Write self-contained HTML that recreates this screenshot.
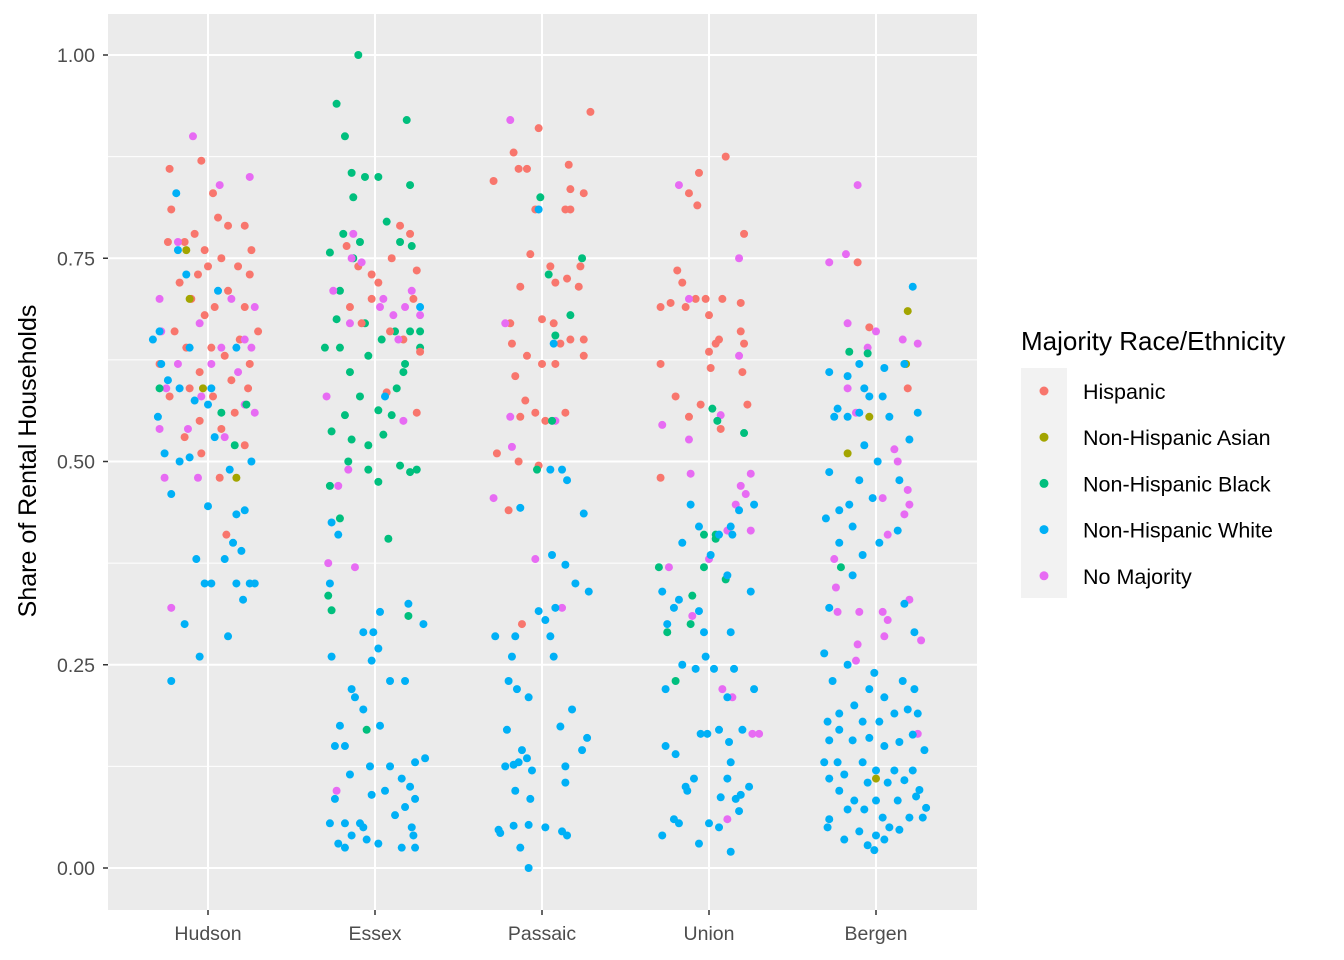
<!DOCTYPE html>
<html><head><meta charset="utf-8"><style>
html,body{margin:0;padding:0;background:#fff;}
svg{display:block;font-family:"Liberation Sans",Arial,sans-serif;}
</style></head><body>
<svg id="chart" width="1344" height="960" viewBox="0 0 1344 960">
<rect x="108" y="14" width="869" height="896" fill="#EBEBEB"/>
<g id="grid"></g>
<g id="points"></g>
<g id="axes"></g>
<text x="36" y="461" transform="rotate(-90 36 461)" text-anchor="middle" font-size="25" fill="#000">Share of Rental Households</text>
<g>
<text x="1021" y="350" font-size="26" fill="#000">Majority Race/Ethnicity</text>
<rect x="1021" y="368" width="46" height="230" fill="#F2F2F2"/>
<g id="legendItems"></g>
</g>
</svg>
<script>
const categories = ["Hudson","Essex","Passaic","Union","Bergen"];
const yTicks = [0, 0.25, 0.5, 0.75, 1.0];
const yTickLabels = ["0.00","0.25","0.50","0.75","1.00"];
const groupKeys = ["H","A","B","W","N"];
const groupNames = ["Hispanic","Non-Hispanic Asian","Non-Hispanic Black","Non-Hispanic White","No Majority"];
const groupColors = {H:"#F8766D",A:"#A3A500",B:"#00BF7D",W:"#00B0F6",N:"#E76BF3"};

// [jitter (category units), value, group]
const hudsonPoints = [
[-.23,.86,'H'],[-.04,.87,'H'],[.03,.83,'H'],[-.22,.81,'H'],[.06,.80,'H'],[.12,.79,'H'],[.22,.79,'H'],[-.08,.78,'H'],[-.14,.77,'H'],[-.24,.77,'H'],[-.02,.76,'H'],[.26,.76,'H'],[.08,.75,'H'],[0,.74,'H'],[.18,.74,'H'],[-.06,.73,'H'],[.25,.73,'H'],[-.17,.72,'H'],[.12,.71,'H'],[-.1,.70,'H'],[.04,.69,'H'],[.22,.69,'H'],[-.02,.68,'H'],[.3,.66,'H'],[-.2,.66,'H'],[.02,.64,'H'],[.19,.65,'H'],[-.13,.64,'H'],[.1,.63,'H'],[.25,.62,'H'],[-.29,.62,'H'],[-.05,.61,'H'],[.14,.60,'H'],[-.11,.59,'H'],[.24,.59,'H'],[.03,.58,'H'],[-.23,.58,'H'],[.16,.56,'H'],[-.05,.55,'H'],[.08,.54,'H'],[-.14,.53,'H'],[.22,.52,'H'],[-.04,.51,'H'],[.11,.41,'H'],[.07,.48,'H'],
[-.09,.90,'N'],[.25,.85,'N'],[.07,.84,'N'],[-.18,.77,'N'],[-.29,.70,'N'],[.14,.70,'N'],[.28,.69,'N'],[-.05,.67,'N'],[.22,.65,'N'],[-.28,.66,'N'],[.08,.64,'N'],[.02,.62,'N'],[.26,.64,'N'],[-.18,.62,'N'],[-.25,.59,'N'],[.18,.61,'N'],[-.04,.58,'N'],[-.12,.54,'N'],[-.29,.54,'N'],[.1,.53,'N'],[-.06,.48,'N'],[-.26,.48,'N'],[.28,.56,'N'],[.22,.57,'N'],[-.22,.32,'N'],
[-.19,.83,'W'],[-.18,.76,'W'],[-.29,.66,'W'],[-.28,.62,'W'],[-.11,.64,'W'],[-.24,.60,'W'],[-.17,.59,'W'],[-.08,.575,'W'],[-.3,.555,'W'],[0,.57,'W'],[.04,.53,'W'],[-.26,.51,'W'],[-.17,.50,'W'],[-.11,.505,'W'],[.13,.49,'W'],[.26,.50,'W'],[-.22,.46,'W'],[0,.445,'W'],[.17,.435,'W'],[.1,.38,'W'],[.22,.44,'W'],[.02,.35,'W'],[.15,.40,'W'],[.2,.39,'W'],[.02,.59,'W'],[.12,.285,'W'],[-.14,.30,'W'],[-.05,.26,'W'],[-.22,.23,'W'],[.25,.35,'W'],[.17,.35,'W'],[.28,.35,'W'],[-.07,.38,'W'],[-.02,.35,'W'],[.21,.33,'W'],[.17,.64,'W'],[.06,.71,'W'],[-.13,.73,'W'],[-.33,.65,'W'],
[-.03,.59,'A'],[.17,.48,'A'],[-.11,.70,'A'],[-.13,.76,'A'],
[.23,.57,'B'],[.08,.56,'B'],[.16,.52,'B'],[-.29,.59,'B']
];
const essexPoints = [
[-.1,1.0,'B'],[-.23,.94,'B'],[-.18,.90,'B'],[.19,.92,'B'],[-.14,.855,'B'],[-.13,.825,'B'],[-.06,.85,'B'],[.02,.85,'B'],[-.27,.757,'B'],[-.19,.78,'B'],[-.09,.77,'B'],[.21,.84,'B'],[.07,.795,'B'],[.15,.77,'B'],[.22,.765,'B'],[-.13,.75,'B'],[-.21,.71,'B'],[-.23,.675,'B'],[-.3,.64,'B'],[-.21,.64,'B'],[-.04,.63,'B'],[-.15,.61,'B'],[.12,.66,'B'],[.21,.66,'B'],[.27,.66,'B'],[.04,.65,'B'],[.18,.62,'B'],[-.09,.58,'B'],[-.18,.557,'B'],[.02,.563,'B'],[.1,.557,'B'],[-.26,.537,'B'],[-.14,.527,'B'],[-.04,.52,'B'],[.05,.533,'B'],[-.16,.50,'B'],[-.27,.47,'B'],[-.04,.49,'B'],[.02,.475,'B'],[.15,.495,'B'],[.21,.487,'B'],[.25,.49,'B'],[-.21,.43,'B'],[.08,.405,'B'],[-.28,.335,'B'],[-.26,.317,'B'],[.2,.31,'B'],[-.05,.17,'B'],[.17,.61,'B'],[.13,.59,'B'],[-.06,.67,'B'],[.27,.64,'B'],
[-.17,.765,'H'],[-.1,.74,'H'],[-.02,.73,'H'],[.02,.72,'H'],[.1,.75,'H'],[.15,.79,'H'],[.21,.78,'H'],[.25,.735,'H'],[.23,.70,'H'],[-.02,.70,'H'],[-.15,.69,'H'],[-.08,.67,'H'],[.09,.66,'H'],[.17,.65,'H'],[.07,.585,'H'],[.27,.635,'H'],[.25,.56,'H'],
[-.13,.78,'N'],[-.14,.75,'N'],[-.08,.745,'N'],[-.15,.67,'N'],[-.25,.71,'N'],[-.29,.58,'N'],[.03,.69,'N'],[.14,.65,'N'],[.17,.55,'N'],[-.22,.47,'N'],[.05,.70,'N'],[-.16,.49,'N'],[-.12,.37,'N'],[-.28,.375,'N'],[-.23,.095,'N'],[.18,.69,'N'],[.22,.71,'N'],[.11,.68,'N'],[.27,.68,'N'],
[-.26,.425,'W'],[-.22,.41,'W'],[-.27,.35,'W'],[.03,.315,'W'],[-.07,.29,'W'],[-.01,.29,'W'],[.2,.325,'W'],[-.02,.255,'W'],[.02,.27,'W'],[-.12,.21,'W'],[-.14,.22,'W'],[-.07,.195,'W'],[-.21,.175,'W'],[.03,.175,'W'],[-.18,.15,'W'],[-.24,.15,'W'],[.09,.125,'W'],[.24,.13,'W'],[.3,.135,'W'],[-.03,.125,'W'],[-.15,.115,'W'],[.16,.11,'W'],[.21,.10,'W'],[.06,.095,'W'],[-.24,.085,'W'],[-.02,.09,'W'],[.18,.075,'W'],[-.09,.055,'W'],[-.27,.055,'W'],[-.18,.055,'W'],[.24,.085,'W'],[.12,.065,'W'],[-.22,.03,'W'],[-.14,.04,'W'],[-.05,.035,'W'],[.02,.03,'W'],[.16,.025,'W'],[.23,.04,'W'],[.22,.05,'W'],[-.07,.05,'W'],[-.18,.025,'W'],[.24,.025,'W'],[.29,.30,'W'],[.18,.23,'W'],[.09,.23,'W'],[-.26,.26,'W'],[.06,.58,'W'],[.27,.69,'W']
];
const passaicPoints = [
[.29,.93,'H'],[-.02,.91,'H'],[-.17,.88,'H'],[-.14,.86,'H'],[-.09,.86,'H'],[-.29,.845,'H'],[.16,.865,'H'],[.17,.835,'H'],[.25,.83,'H'],[-.04,.81,'H'],[.14,.81,'H'],[.17,.81,'H'],[-.07,.755,'H'],[.05,.74,'H'],[.23,.74,'H'],[.08,.72,'H'],[-.13,.715,'H'],[.15,.725,'H'],[.22,.715,'H'],[0,.675,'H'],[.07,.67,'H'],[-.19,.67,'H'],[-.18,.645,'H'],[-.09,.63,'H'],[.25,.65,'H'],[.25,.63,'H'],[.17,.65,'H'],[.11,.645,'H'],[0,.62,'H'],[.08,.62,'H'],[-.16,.605,'H'],[-.1,.575,'H'],[-.13,.555,'H'],[-.04,.56,'H'],[-.02,.495,'H'],[-.14,.50,'H'],[-.2,.44,'H'],[-.12,.30,'H'],[-.27,.51,'H'],[.14,.56,'H'],[.02,.55,'H'],
[-.19,.92,'N'],[-.22,.67,'N'],[-.19,.555,'N'],[-.18,.518,'N'],[-.29,.455,'N'],[-.04,.38,'N'],[.12,.32,'N'],[.08,.55,'N'],
[-.01,.825,'B'],[.24,.75,'B'],[.04,.73,'B'],[.17,.68,'B'],[.08,.655,'B'],[.06,.55,'B'],[-.03,.49,'B'],
[-.02,.81,'W'],[.07,.645,'W'],[.05,.49,'W'],[.12,.49,'W'],[.15,.477,'W'],[-.13,.443,'W'],[.25,.436,'W'],[.06,.385,'W'],[.14,.373,'W'],[.2,.35,'W'],[.28,.34,'W'],[-.02,.316,'W'],[.08,.32,'W'],[.02,.305,'W'],[-.28,.285,'W'],[-.16,.285,'W'],[.05,.285,'W'],[-.18,.26,'W'],[.07,.26,'W'],[-.2,.23,'W'],[-.15,.22,'W'],[.18,.195,'W'],[-.08,.21,'W'],[-.21,.17,'W'],[.11,.174,'W'],[-.12,.145,'W'],[-.09,.135,'W'],[-.17,.127,'W'],[-.14,.13,'W'],[-.06,.12,'W'],[.14,.125,'W'],[-.22,.125,'W'],[.27,.16,'W'],[.24,.145,'W'],[.14,.105,'W'],[-.16,.095,'W'],[-.07,.085,'W'],[-.17,.052,'W'],[-.26,.047,'W'],[-.25,.043,'W'],[-.08,.053,'W'],[.02,.05,'W'],[.12,.045,'W'],[.15,.04,'W'],[-.13,.025,'W'],[-.08,0,'W']
];
const unionPoints = [
[.1,.875,'H'],[-.06,.855,'H'],[-.12,.83,'H'],[-.07,.815,'H'],[-.19,.735,'H'],[-.16,.72,'H'],[.21,.78,'H'],[-.29,.69,'H'],[-.23,.695,'H'],[-.08,.70,'H'],[.08,.70,'H'],[-.02,.70,'H'],[.19,.695,'H'],[-.14,.69,'H'],[0,.68,'H'],[.19,.66,'H'],[.06,.65,'H'],[.04,.645,'H'],[0,.635,'H'],[.21,.645,'H'],[-.29,.62,'H'],[-.2,.58,'H'],[.01,.615,'H'],[-.12,.555,'H'],[-.05,.57,'H'],[.23,.57,'H'],[.2,.61,'H'],[-.29,.48,'H'],[.07,.54,'H'],
[-.18,.84,'N'],[.18,.75,'N'],[.18,.63,'N'],[-.12,.70,'N'],[-.12,.527,'N'],[-.28,.545,'N'],[-.24,.37,'N'],[.19,.47,'N'],[.25,.485,'N'],[.07,.557,'N'],[-.11,.485,'N'],[.16,.447,'N'],[-.1,.31,'N'],[.11,.415,'N'],[.25,.415,'N'],[.08,.22,'N'],[.11,.06,'N'],[.14,.21,'N'],[.26,.165,'N'],[.3,.165,'N'],[.22,.46,'N'],[0,.38,'N'],
[.02,.565,'B'],[.05,.55,'B'],[.21,.535,'B'],[-.3,.37,'B'],[-.03,.37,'B'],[-.1,.335,'B'],[-.11,.30,'B'],[-.25,.29,'B'],[-.2,.23,'B'],[.04,.41,'B'],[.04,.405,'B'],[-.03,.41,'B'],[.1,.355,'B'],
[.06,.41,'W'],[-.16,.40,'W'],[-.06,.42,'W'],[-.11,.447,'W'],[.13,.42,'W'],[.18,.44,'W'],[.27,.447,'W'],[.11,.36,'W'],[.01,.385,'W'],[.14,.41,'W'],[-.28,.34,'W'],[-.21,.32,'W'],[-.25,.30,'W'],[-.18,.33,'W'],[.25,.34,'W'],[-.06,.316,'W'],[-.03,.29,'W'],[.13,.29,'W'],[-.26,.22,'W'],[-.16,.25,'W'],[-.02,.26,'W'],[.15,.245,'W'],[.03,.245,'W'],[-.08,.245,'W'],[.27,.22,'W'],[.11,.21,'W'],[.2,.17,'W'],[-.01,.165,'W'],[.06,.17,'W'],[-.05,.165,'W'],[-.26,.15,'W'],[-.2,.14,'W'],[.12,.155,'W'],[.13,.13,'W'],[-.09,.11,'W'],[-.14,.10,'W'],[-.13,.095,'W'],[.19,.09,'W'],[.11,.11,'W'],[.24,.10,'W'],[.16,.085,'W'],[.07,.087,'W'],[.18,.07,'W'],[-.21,.06,'W'],[-.18,.055,'W'],[0,.055,'W'],[-.28,.04,'W'],[-.06,.03,'W'],[.13,.02,'W'],[.06,.05,'W']
];
const bergenPoints = [
[-.11,.84,'N'],[-.28,.745,'N'],[-.18,.755,'N'],[-.17,.67,'N'],[.16,.65,'N'],[.25,.645,'N'],[0,.66,'N'],[-.05,.64,'N'],[-.17,.59,'N'],[-.12,.56,'N'],[.11,.515,'N'],[.04,.455,'N'],[.19,.465,'N'],[.2,.447,'N'],[.17,.435,'N'],[.07,.41,'N'],[-.25,.38,'N'],[-.24,.345,'N'],[.13,.5,'N'],[-.23,.315,'N'],[-.1,.315,'N'],[.04,.315,'N'],[.07,.305,'N'],[.2,.33,'N'],[.27,.28,'N'],[-.11,.275,'N'],[-.12,.255,'N'],[.05,.285,'N'],[.25,.165,'N'],
[-.11,.745,'H'],[-.04,.665,'H'],[.19,.59,'H'],
[.19,.685,'A'],[.18,.62,'A'],[-.04,.555,'A'],[-.17,.51,'A'],[0,.11,'A'],
[-.16,.635,'B'],[-.05,.633,'B'],[-.21,.37,'B'],
[.22,.715,'W'],[.17,.62,'W'],[-.1,.62,'W'],[-.28,.61,'W'],[-.17,.605,'W'],[.05,.615,'W'],[-.07,.59,'W'],[-.23,.565,'W'],[-.1,.56,'W'],[.04,.58,'W'],[-.04,.58,'W'],[.25,.56,'W'],[-.25,.555,'W'],[-.17,.555,'W'],[.08,.555,'W'],[.2,.527,'W'],[-.07,.52,'W'],[.01,.50,'W'],[-.28,.487,'W'],[-.1,.477,'W'],[.14,.477,'W'],[-.02,.455,'W'],[-.16,.447,'W'],[-.22,.44,'W'],[-.3,.43,'W'],[-.14,.42,'W'],[.13,.415,'W'],[.02,.40,'W'],[-.22,.40,'W'],[-.08,.385,'W'],[-.14,.36,'W'],[-.28,.32,'W'],[.17,.325,'W'],[.23,.29,'W'],[-.31,.264,'W'],[-.01,.24,'W'],[-.17,.25,'W'],[-.26,.23,'W'],[-.04,.22,'W'],[.05,.21,'W'],[.16,.23,'W'],[.23,.22,'W'],[-.22,.19,'W'],[-.13,.20,'W'],[-.29,.18,'W'],[-.08,.18,'W'],[.02,.18,'W'],[.11,.19,'W'],[.19,.195,'W'],[.25,.19,'W'],[-.22,.17,'W'],[-.28,.157,'W'],[-.14,.157,'W'],[-.04,.16,'W'],[.05,.15,'W'],[.14,.155,'W'],[.22,.164,'W'],[.29,.145,'W'],[-.23,.13,'W'],[-.31,.13,'W'],[-.08,.13,'W'],[0,.12,'W'],[.11,.12,'W'],[.22,.12,'W'],[-.19,.115,'W'],[-.28,.11,'W'],[-.05,.105,'W'],[.07,.105,'W'],[.17,.108,'W'],[.26,.096,'W'],[-.22,.095,'W'],[-.13,.083,'W'],[0,.083,'W'],[.13,.083,'W'],[.24,.088,'W'],[.3,.074,'W'],[-.17,.072,'W'],[-.07,.072,'W'],[-.28,.06,'W'],[.04,.062,'W'],[.2,.062,'W'],[.28,.062,'W'],[.14,.047,'W'],[-.1,.045,'W'],[0,.04,'W'],[-.19,.035,'W'],[.05,.035,'W'],[-.29,.05,'W'],[-.05,.028,'W'],[-.01,.022,'W'],[.08,.05,'W']
];
const countyPoints = [hudsonPoints, essexPoints, passaicPoints, unionPoints, bergenPoints];

const NS = "http://www.w3.org/2000/svg";
const panel = {x0:108, x1:977, y0:14, y1:910};
function xScale(i){ return 208 + i*167; }
function yScale(v){ return 868 - v*813; }
function mk(tag, attrs, parent){
  const e = document.createElementNS(NS, tag);
  for (const k in attrs) e.setAttribute(k, attrs[k]);
  parent.appendChild(e); return e;
}
const grid = document.getElementById('grid');
const axes = document.getElementById('axes');
const pts = document.getElementById('points');

for (let i=0;i<yTicks.length-1;i++){
  const y = yScale((yTicks[i]+yTicks[i+1])/2);
  const l = mk('line',{x1:panel.x0,x2:panel.x1,y1:y,y2:y,stroke:'#fff','stroke-width':1},grid);
  
  
}
yTicks.forEach((t,i)=>{
  const y = yScale(t);
  const l = mk('line',{x1:panel.x0,x2:panel.x1,y1:y,y2:y,stroke:'#fff','stroke-width':2},grid);
  
  
  const tk = mk('line',{x1:103,x2:108,y1:y,y2:y,stroke:'#333','stroke-width':1.5},axes);
  
  
  const tx = mk('text',{x:95,y:y+7,'text-anchor':'end','font-size':19.5,fill:'#4D4D4D'},axes);
  tx.textContent = yTickLabels[i];
  
  
});
categories.forEach((c,i)=>{
  const x = xScale(i);
  const l = mk('line',{x1:x,x2:x,y1:panel.y0,y2:panel.y1,stroke:'#fff','stroke-width':2},grid);
  
  
  const tk = mk('line',{x1:x,x2:x,y1:910,y2:915,stroke:'#333','stroke-width':1.5},axes);
  
  
  const tx = mk('text',{x:x,y:940,'text-anchor':'middle','font-size':19.5,fill:'#4D4D4D'},axes);
  tx.textContent = c;
  
  
  countyPoints[i].forEach(p=>{
    const cx = xScale(i + p[0]);
    const cy = yScale(p[1]);
    const dot = mk('circle',{cx:cx,cy:cy,r:4,fill:groupColors[p[2]]},pts);
    
    
  });
});
const li = document.getElementById('legendItems');
groupKeys.forEach((g,i)=>{
  const y = 391 + i*46.2;
  const d = mk('circle',{cx:1044,cy:y,r:4.5,fill:groupColors[g]},li);
  
  
  const t = mk('text',{x:1083,y:y+8,'font-size':21.5,fill:'#000'},li);
  t.textContent = groupNames[i];
  
  
});
</script>
</body></html>
